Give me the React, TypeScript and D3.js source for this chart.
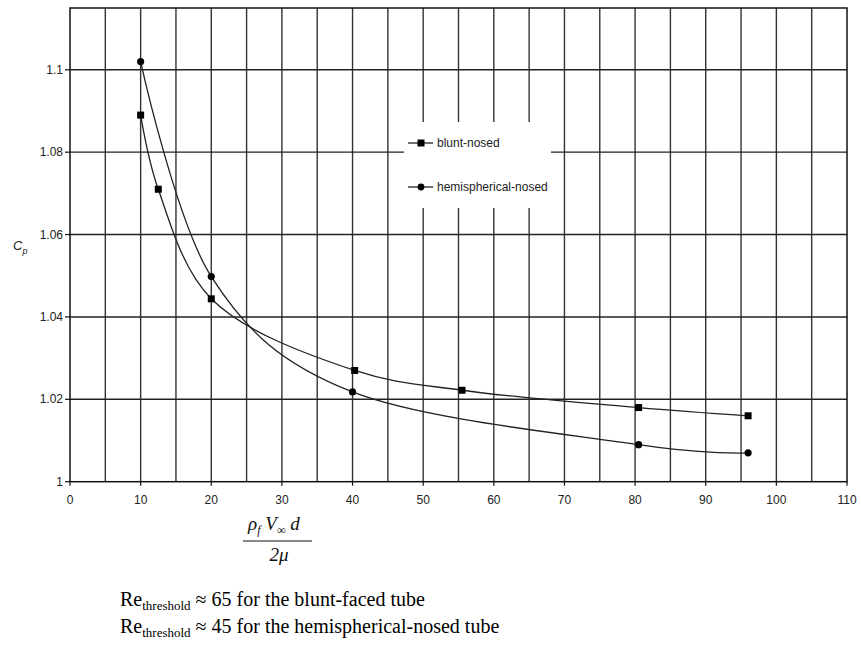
import { useEffect, useRef } from 'react';
import * as d3 from 'd3';

// 資料
const bluntX = [10, 12.5, 20, 40.3, 55.5, 80.5, 96];
const bluntY = [1.089, 1.071, 1.0444, 1.027, 1.0222, 1.018, 1.016];
const hemiX = [10, 20, 40, 80.5, 96];
const hemiY = [1.102, 1.0498, 1.0218, 1.009, 1.007];
const xTicks = [0, 10, 20, 30, 40, 50, 60, 70, 80, 90, 100, 110];
const xGrid = d3.range(5, 110, 5);
const yTicks = [1, 1.02, 1.04, 1.06, 1.08, 1.1];
const yTickLabels = ['1', '1.02', '1.04', '1.06', '1.08', '1.1'];
const legendLabels = ['blunt-nosed', 'hemispherical-nosed'];
const notes = [
  { value: '65', rest: ' for the blunt-faced tube' },
  { value: '45', rest: ' for the hemispherical-nosed tube' },
];

export default function App() {
  const ref = useRef<SVGSVGElement | null>(null);

  useEffect(() => {
    const svg = d3.select(ref.current);
    svg.selectAll('*').remove();

    const x = d3.scaleLinear().domain([0, 110]).range([70, 847]);
    const y = d3.scaleLinear().domain([1, 1.115]).range([481.7, 8]);
    const sans = 'Liberation Sans, Arial, sans-serif';
    const serif = 'Liberation Serif, Times New Roman, serif';

    const g = svg.append('g');

    // 垂直格線
    g.selectAll('line.vgrid')
      .data(xGrid)
      .enter()
      .append('line')
      .attr('x1', d => x(d)).attr('x2', d => x(d))
      .attr('y1', y(1.115)).attr('y2', y(1))
      .attr('stroke', '#333').attr('stroke-width', 1.4);

    // 水平格線
    g.selectAll('line.hgrid')
      .data(yTicks.slice(1))
      .enter()
      .append('line')
      .attr('x1', x(0)).attr('x2', x(110))
      .attr('y1', d => y(d)).attr('y2', d => y(d))
      .attr('stroke', '#222').attr('stroke-width', 1.4);

    // 外框
    g.append('rect')
      .attr('x', x(0)).attr('y', y(1.115))
      .attr('width', x(110) - x(0)).attr('height', y(1) - y(1.115))
      .attr('fill', 'none').attr('stroke', '#111').attr('stroke-width', 1.5);

    // X 軸刻度
    g.selectAll('line.xtick')
      .data(xTicks)
      .enter()
      .append('line')
      .attr('x1', d => x(d)).attr('x2', d => x(d))
      .attr('y1', y(1)).attr('y2', y(1) + 4)
      .attr('stroke', '#111').attr('stroke-width', 1.2);
    g.selectAll('text.xlab')
      .data(xTicks)
      .enter()
      .append('text')
      .attr('x', d => x(d)).attr('y', y(1) + 22)
      .attr('text-anchor', 'middle')
      .style('font-family', sans).style('font-size', '12px').attr('fill', '#222')
      .text(d => d);

    // Y 軸刻度
    g.selectAll('line.ytick')
      .data(yTicks)
      .enter()
      .append('line')
      .attr('x1', x(0) - 5).attr('x2', x(0))
      .attr('y1', d => y(d)).attr('y2', d => y(d))
      .attr('stroke', '#111').attr('stroke-width', 1.2);
    g.selectAll('text.ylab')
      .data(yTicks)
      .enter()
      .append('text')
      .attr('x', x(0) - 7).attr('y', d => y(d) + 4)
      .attr('text-anchor', 'end')
      .style('font-family', sans).style('font-size', '12px').attr('fill', '#222')
      .text((d, i) => yTickLabels[i]);

    // 圖例背景
    g.append('rect')
      .attr('x', 404).attr('y', 122).attr('width', 147).attr('height', 86)
      .attr('fill', '#fff');

    const lineFor = (alpha: number) => d3.line<[number, number]>()
      .x(d => x(d[0])).y(d => y(d[1]))
      .curve(d3.curveCatmullRom.alpha(alpha));

    const bluntPts = bluntX.map((v, i) => [v, bluntY[i]] as [number, number]);
    const hemiPts = hemiX.map((v, i) => [v, hemiY[i]] as [number, number]);

    g.append('path').attr('d', lineFor(0.5)(bluntPts)!)
      .attr('fill', 'none').attr('stroke', '#222').attr('stroke-width', 1.3);
    g.append('path').attr('d', lineFor(0)(hemiPts)!)
      .attr('fill', 'none').attr('stroke', '#222').attr('stroke-width', 1.3);

    g.selectAll('rect.sq')
      .data(bluntPts)
      .enter()
      .append('rect')
      .attr('x', d => x(d[0]) - 3.5).attr('y', d => y(d[1]) - 3.5)
      .attr('width', 7).attr('height', 7).attr('fill', '#000');
    g.selectAll('circle.dot')
      .data(hemiPts)
      .enter()
      .append('circle')
      .attr('cx', d => x(d[0])).attr('cy', d => y(d[1]))
      .attr('r', 3.6).attr('fill', '#000');

    // 圖例
    const legY = [143, 187];
    legendLabels.forEach((label, i) => {
      const ly = legY[i];
      g.append('line').attr('x1', 408).attr('x2', 433).attr('y1', ly).attr('y2', ly)
        .attr('stroke', '#222').attr('stroke-width', 1.3);
      if (i === 0) {
        g.append('rect').attr('x', 417.5).attr('y', ly - 3.5).attr('width', 7).attr('height', 7).attr('fill', '#000');
      } else {
        g.append('circle').attr('cx', 421).attr('cy', ly).attr('r', 3.4).attr('fill', '#000');
      }
      g.append('text').attr('x', 437).attr('y', ly + 4)
        .style('font-family', sans).style('font-size', '12px').attr('fill', '#222')
        .text(label);
    });

    // Y 軸標題 Cp
    const cp = g.append('text').attr('x', 13).attr('y', 250)
      .style('font-family', sans).style('font-style', 'italic').style('font-size', '13px').attr('fill', '#222');
    cp.append('tspan').text('C');
    cp.append('tspan').attr('dy', 4).style('font-size', '9px').text('p');

    // X 軸標題（分數）
    const cx = x(30);
    const num = g.append('text').attr('x', cx - 8).attr('y', 530).attr('text-anchor', 'middle')
      .style('font-family', serif).style('font-style', 'italic').style('font-size', '19px').attr('fill', '#111');
    num.append('tspan').text('ρ');
    num.append('tspan').attr('dy', 4).style('font-size', '12px').text('f');
    num.append('tspan').attr('dy', -4).text(' V');
    num.append('tspan').attr('dy', 4).style('font-size', '12px').text('∞');
    num.append('tspan').attr('dy', -4).text(' d');
    g.append('line').attr('x1', cx - 39).attr('x2', cx + 30).attr('y1', 541).attr('y2', 541)
      .attr('stroke', '#111').attr('stroke-width', 1);
    g.append('text').attr('x', cx - 3).attr('y', 561).attr('text-anchor', 'middle')
      .style('font-family', serif).style('font-style', 'italic').style('font-size', '19px').attr('fill', '#111')
      .text('2μ');

    // 下方說明文字
    notes.forEach((n, i) => {
      const t = g.append('text').attr('x', 120).attr('y', 606 + i * 27)
        .style('font-family', serif).style('font-size', '20px').attr('fill', '#000');
      t.append('tspan').text('Re');
      t.append('tspan').attr('dy', 4).style('font-size', '13px').text('threshold');
      t.append('tspan').attr('dy', -4).text(` ≈ ${n.value}${n.rest}`);
    });
  }, []);

  return (
    <svg
      ref={ref}
      width={861}
      height={646}
      style={{ position: 'absolute', left: 0, top: 0, background: '#fff' }}
    />
  );
}
